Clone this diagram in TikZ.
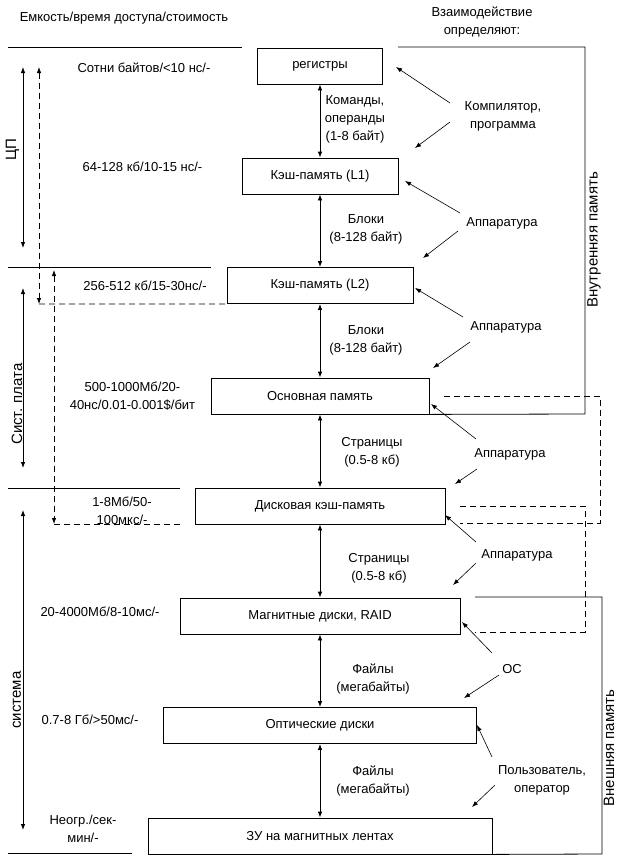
\documentclass[tikz,border=0pt]{standalone}
\usepackage{fontspec}
\setmainfont{Liberation Sans}
\usetikzlibrary{arrows.meta}
\newcommand\fsz{\fontsize{13}{18}\selectfont}
\newcommand\fsr{\fontsize{15}{18}\selectfont}
\begin{document}
\begin{tikzpicture}[x=1pt,y=-1pt,
  >={Latex[length=6pt,width=4.5pt]},
  box/.style={draw, line width=0.8pt, minimum height=36pt, inner sep=0pt, font=\fsz},
  lbl/.style={align=center, font=\fsz, inner sep=0pt},
  rlbl/.style={font=\fsr, inner sep=0pt, rotate=90},
  dbl/.style={<->, line width=0.8pt},
  ag/.style={->, line width=0.6pt},
  dsh/.style={line width=0.8pt, dash pattern=on 6pt off 4pt},
  sld/.style={line width=0.8pt}]
\useasboundingbox (0,0) rectangle (620,857);

% headers
\node[lbl] (h1) at (124,18) {Емкость/время доступа/стоимость};
\node[lbl] (h2) at (482,22) {Взаимодействие\\определяют:};

% boxes
\node[box, minimum width=125pt] (reg) at (320,66) {регистры};
\node[box, minimum width=156pt] (l1) at (320,176) {Кэш-память (L1)};
\node[box, minimum width=186pt] (l2) at (320,285.5) {Кэш-память (L2)};
\node[box, minimum width=218pt] (mem) at (320,396) {Основная память};
\node[box, minimum width=250pt] (dc) at (320,506) {Дисковая кэш-память};
\node[box, minimum width=280pt] (mag) at (320,616) {Магнитные диски, RAID};
\node[box, minimum width=313pt] (opt) at (320,725.5) {Оптические диски};
\node[box, minimum width=344pt] (tape) at (320,836) {ЗУ на магнитных лентах};

% vertical transfer arrows
\draw[dbl] (reg) -- (l1);
\draw[dbl] (l1) -- (l2);
\draw[dbl] (l2) -- (mem);
\draw[dbl] (mem) -- (dc);
\draw[dbl] (dc) -- (mag);
\draw[dbl] (mag) -- (opt);
\draw[dbl] (opt) -- (tape);

% transfer labels
\node[lbl] (t1) at (355,119) {Команды,\\операнды\\(1-8 байт)};
\node[lbl] (t2) at (366,229) {Блоки\\(8-128 байт)};
\node[lbl] (t3) at (366,340) {Блоки\\(8-128 байт)};
\node[lbl] (t4) at (372,452) {Страницы\\(0.5-8 кб)};
\node[lbl] (t5) at (379,568) {Страницы\\(0.5-8 кб)};
\node[lbl] (t6) at (373,679) {Файлы\\(мегабайты)};
\node[lbl] (t7) at (373,781) {Файлы\\(мегабайты)};

% left characteristics
\node[lbl] (c1) at (144,68) {Сотни байтов/<10 нс/-};
\node[lbl] (c2) at (142.5,167) {64-128 кб/10-15 нс/-};
\node[lbl] (c3) at (145,286) {256-512 кб/15-30нс/-};
\node[lbl] (c4) at (132.5,396) {500-1000Мб/20-\\40нс/0.01-0.001\$/бит};
\node[lbl] (c5) at (122,511) {1-8Мб/50-\\100мкс/-};
\node[lbl] (c6) at (100,612) {20-4000Мб/8-10мс/-};
\node[lbl] (c7) at (90,720) {0.7-8 Гб/>50мс/-};
\node[lbl] (c8) at (83,829) {Неогр./сек-\\мин/-};

% agents
\node[lbl] (a1) at (503,116) {Компилятор,\\программа};
\node[lbl] (a2) at (502,223) {Аппаратура};
\node[lbl] (a3) at (506,327) {Аппаратура};
\node[lbl] (a4) at (510,454) {Аппаратура};
\node[lbl] (a5) at (517,555) {Аппаратура};
\node[lbl] (a6) at (512,669) {ОС};
\node[lbl] (a7) at (542,780) {Пользователь,\\оператор};

% agent arrows
\coordinate (p1s) at (450,103); \coordinate (p1e) at (396,67);
\coordinate (p2s) at (450,122); \coordinate (p2e) at (415,148);
\coordinate (p3s) at (460,213); \coordinate (p3e) at (405,181);
\coordinate (p4s) at (458,231); \coordinate (p4e) at (423,258);
\coordinate (p5s) at (463,317); \coordinate (p5e) at (415,288);
\coordinate (p6s) at (470,342); \coordinate (p6e) at (433,368);
\coordinate (p7s) at (476,439); \coordinate (p7e) at (431,404);
\coordinate (p8s) at (477,469); \coordinate (p8e) at (455,484);
\coordinate (p9s) at (476,542); \coordinate (p9e) at (445,515);
\coordinate (p10s) at (476,563); \coordinate (p10e) at (453,585);
\coordinate (p11s) at (492,653); \coordinate (p11e) at (462,622);
\coordinate (p12s) at (499,675); \coordinate (p12e) at (464,698);
\coordinate (p13s) at (492,757); \coordinate (p13e) at (477,725);
\coordinate (p14s) at (495,785); \coordinate (p14e) at (472,807);
\foreach \i in {1,...,14} {\draw[ag] (p\i s) -- (p\i e);}

% brackets right
\coordinate (ib) at (398,47);
\draw[sld] (ib) -| (585,414) -- (mem.south east);
\node[rlbl] (inner) at (594,240) {Внутренняя память};
\coordinate (eb) at (475,597);
\draw[sld] (eb) -| (602,854) -- (tape.south east);
\node[rlbl] (outer) at (609,748) {Внешняя память};

% dashed brackets right
\coordinate (d1) at (444,396);
\draw[dsh] (d1) -| (600,523) -- (460,523);
\coordinate (d2) at (460,506);
\draw[dsh] (d2) -| (585,632) -- (475,632);

% left separators
\draw[sld] (8,47) -- (242,47);
\draw[sld] (8,267) -- (211,267);
\draw[sld] (8,488) -- (180,488);
\draw[sld] (8,853) -- (132,853);

% left level arrows
\coordinate (u1) at (23,67); \coordinate (v1) at (23,248);
\draw[dbl] (u1) -- (v1);
\node[rlbl] (cpu) at (12.5,150) {ЦП};
\coordinate (u2) at (23,288); \coordinate (v2) at (23,468);
\draw[dbl] (u2) -- (v2);
\node[rlbl] (board) at (17,404) {Сист. плата};
\coordinate (u3) at (23,510); \coordinate (v3) at (23,830);
\draw[dbl] (u3) -- (v3);
\node[rlbl] (sys) at (17,700) {система};

% dashed left arrows
\coordinate (w1) at (39,67); \coordinate (w1b) at (39,304);
\draw[dsh, <->] (w1) -- (w1b);
\draw[dsh] (w1b) -- (l2.south west);
\coordinate (w2) at (54,270); \coordinate (w2b) at (54,524); \coordinate (w2c) at (180,524);
\draw[dsh, <->] (w2) -- (w2b);
\draw[dsh] (w2b) -- (w2c);
\end{tikzpicture}
\end{document}
